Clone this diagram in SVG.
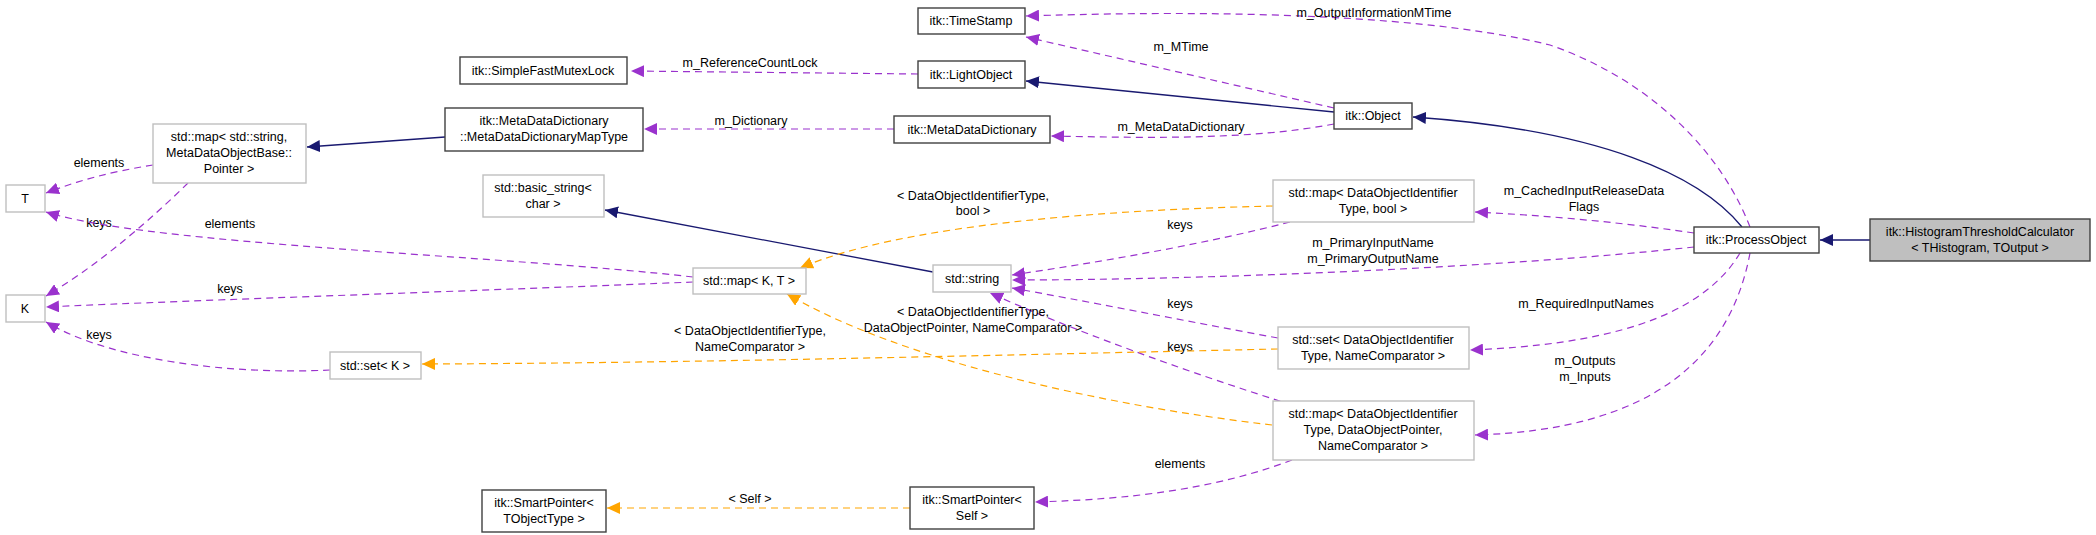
<svg xmlns="http://www.w3.org/2000/svg" width="2096" height="535" viewBox="0 0 2096 535">
<style>
text{font-family:"Liberation Sans",Arial,sans-serif;font-size:12.5px;fill:#000;text-anchor:middle}
.nb{fill:#fff;stroke:#404040;stroke-width:1.4}
.ng{fill:#fff;stroke:#bfbfbf;stroke-width:1.4}
.nh{fill:#bfbfbf;stroke:#404040;stroke-width:1.4}
.inh{fill:none;stroke:#191970;stroke-width:1.3}
.use{fill:none;stroke:#9a32cd;stroke-width:1.2;stroke-dasharray:7,5}
.tpl{fill:none;stroke:#ffa500;stroke-width:1.2;stroke-dasharray:7,5}
</style>
<defs>
<marker id="aN" markerUnits="userSpaceOnUse" markerWidth="14" markerHeight="12" refX="13" refY="6" orient="auto"><path d="M0,0L13,6L0,12z" fill="#191970"/></marker>
<marker id="aP" markerUnits="userSpaceOnUse" markerWidth="14" markerHeight="12" refX="13" refY="6" orient="auto"><path d="M0,0L13,6L0,12z" fill="#9a32cd"/></marker>
<marker id="aO" markerUnits="userSpaceOnUse" markerWidth="14" markerHeight="12" refX="13" refY="6" orient="auto"><path d="M0,0L13,6L0,12z" fill="#ffa500"/></marker>
</defs>
<g id="edges">
<path class="inh" d="M1870,240L1820,240" marker-end="url(#aN)"/>
<path class="inh" d="M1742,227C1700,175 1600,130 1413,117" marker-end="url(#aN)"/>
<path class="inh" d="M1334,112L1026,81" marker-end="url(#aN)"/>
<path class="inh" d="M933,272L605,210" marker-end="url(#aN)"/>
<path class="inh" d="M445,137L307,147" marker-end="url(#aN)"/>
<path class="use" d="M1750,227C1720,150 1650,80 1550,45C1400,8 1150,12 1026,16" marker-end="url(#aP)"/>
<text x="1374" y="17">m_OutputInformationMTime</text>
<path class="use" d="M1334,108L1026,37" marker-end="url(#aP)"/>
<text x="1181" y="51">m_MTime</text>
<path class="use" d="M918,74L631,71" marker-end="url(#aP)"/>
<text x="750" y="67">m_ReferenceCountLock</text>
<path class="use" d="M1334,124C1250,140 1150,138 1051,136" marker-end="url(#aP)"/>
<text x="1181" y="131">m_MetaDataDictionary</text>
<path class="use" d="M894,129L644,129" marker-end="url(#aP)"/>
<text x="751" y="125">m_Dictionary</text>
<path class="use" d="M153,165C110,172 80,180 46,193" marker-end="url(#aP)"/>
<text x="99" y="167">elements</text>
<path class="use" d="M188,183C140,230 90,270 46,296" marker-end="url(#aP)"/>
<text x="99" y="227">keys</text>
<path class="use" d="M693,277C500,255 150,245 46,212" marker-end="url(#aP)"/>
<text x="230" y="228">elements</text>
<path class="use" d="M693,282C500,290 200,300 46,307" marker-end="url(#aP)"/>
<text x="230" y="293">keys</text>
<path class="use" d="M330,370C230,375 110,360 46,322" marker-end="url(#aP)"/>
<text x="99" y="339">keys</text>
<path class="use" d="M1290,222C1200,245 1100,262 1012,275" marker-end="url(#aP)"/>
<text x="1180" y="229">keys</text>
<path class="use" d="M1694,247C1500,268 1200,280 1012,280" marker-end="url(#aP)"/>
<text x="1373" y="247">m_PrimaryInputName</text>
<text x="1373" y="263">m_PrimaryOutputName</text>
<path class="use" d="M1278,338C1180,320 1080,300 1012,288" marker-end="url(#aP)"/>
<text x="1180" y="308">keys</text>
<path class="use" d="M1292,405C1150,360 1050,320 990,293" marker-end="url(#aP)"/>
<text x="1180" y="351">keys</text>
<path class="use" d="M1694,233C1620,222 1540,215 1475,212" marker-end="url(#aP)"/>
<text x="1584" y="195">m_CachedInputReleaseData</text>
<text x="1584" y="211">Flags</text>
<path class="use" d="M1740,253C1700,320 1600,345 1470,350" marker-end="url(#aP)"/>
<text x="1586" y="308">m_RequiredInputNames</text>
<path class="use" d="M1750,253C1730,360 1650,430 1475,435" marker-end="url(#aP)"/>
<text x="1585" y="365">m_Outputs</text>
<text x="1585" y="381">m_Inputs</text>
<path class="use" d="M1292,460C1200,495 1100,500 1035,502" marker-end="url(#aP)"/>
<text x="1180" y="468">elements</text>
<path class="tpl" d="M1273,206C1100,210 900,225 800,268" marker-end="url(#aO)"/>
<text x="973" y="200">&lt; DataObjectIdentifierType,</text>
<text x="973" y="215">bool &gt;</text>
<path class="tpl" d="M1278,349C1000,355 700,363 422,364" marker-end="url(#aO)"/>
<text x="750" y="335">&lt; DataObjectIdentifierType,</text>
<text x="750" y="351">NameComparator &gt;</text>
<path class="tpl" d="M1272,425C1100,405 900,360 787,294" marker-end="url(#aO)"/>
<text x="973" y="316">&lt; DataObjectIdentifierType,</text>
<text x="973" y="332">DataObjectPointer, NameComparator &gt;</text>
<path class="tpl" d="M910,508L607,508" marker-end="url(#aO)"/>
<text x="750" y="503">&lt; Self &gt;</text>
</g>
<g id="HistogramThresholdCalculator"><rect class="nh" x="1870" y="219" width="220" height="42"/><text x="1980" y="236">itk::HistogramThresholdCalculator</text><text x="1980" y="252">&lt; THistogram, TOutput &gt;</text></g>
<g id="ProcessObject"><rect class="nb" x="1694" y="227" width="125" height="26"/><text x="1756" y="244">itk::ProcessObject</text></g>
<g id="Object"><rect class="nb" x="1334" y="103" width="78" height="26"/><text x="1373" y="120">itk::Object</text></g>
<g id="TimeStamp"><rect class="nb" x="918" y="8" width="107" height="26"/><text x="971" y="25">itk::TimeStamp</text></g>
<g id="LightObject"><rect class="nb" x="918" y="61" width="107" height="27"/><text x="971" y="79">itk::LightObject</text></g>
<g id="Mutex"><rect class="nb" x="460" y="57" width="167" height="27"/><text x="543" y="75">itk::SimpleFastMutexLock</text></g>
<g id="MetaDataDictionary"><rect class="nb" x="894" y="116" width="156" height="27"/><text x="972" y="134">itk::MetaDataDictionary</text></g>
<g id="MDDMapType"><rect class="nb" x="445" y="108" width="198" height="43"/><text x="544" y="125">itk::MetaDataDictionary</text><text x="544" y="141">::MetaDataDictionaryMapType</text></g>
<g id="MapStringMeta"><rect class="ng" x="153" y="124" width="153" height="59"/><text x="229" y="141">std::map&lt; std::string,</text><text x="229" y="157">MetaDataObjectBase::</text><text x="229" y="173">Pointer &gt;</text></g>
<g id="T"><rect class="ng" x="6" y="185" width="39" height="27"/><text x="25" y="203">T</text></g>
<g id="K"><rect class="ng" x="6" y="295" width="39" height="27"/><text x="25" y="313">K</text></g>
<g id="BasicString"><rect class="ng" x="483" y="175" width="121" height="42"/><text x="543" y="192">std::basic_string&lt;</text><text x="543" y="208">char &gt;</text></g>
<g id="MapKT"><rect class="ng" x="693" y="268" width="113" height="26"/><text x="749" y="285">std::map&lt; K, T &gt;</text></g>
<g id="String"><rect class="ng" x="933" y="265" width="78" height="27"/><text x="972" y="283">std::string</text></g>
<g id="SetK"><rect class="ng" x="330" y="352" width="91" height="27"/><text x="375" y="370">std::set&lt; K &gt;</text></g>
<g id="MapDOITBool"><rect class="ng" x="1273" y="180" width="201" height="42"/><text x="1373" y="197">std::map&lt; DataObjectIdentifier</text><text x="1373" y="213">Type, bool &gt;</text></g>
<g id="SetDOIT"><rect class="ng" x="1278" y="327" width="191" height="42"/><text x="1373" y="344">std::set&lt; DataObjectIdentifier</text><text x="1373" y="360">Type, NameComparator &gt;</text></g>
<g id="MapDOITDOP"><rect class="ng" x="1273" y="401" width="201" height="59"/><text x="1373" y="418">std::map&lt; DataObjectIdentifier</text><text x="1373" y="434">Type, DataObjectPointer,</text><text x="1373" y="450">NameComparator &gt;</text></g>
<g id="SmartPointerSelf"><rect class="nb" x="910" y="487" width="124" height="42"/><text x="972" y="504">itk::SmartPointer&lt;</text><text x="972" y="520">Self &gt;</text></g>
<g id="SmartPointerT"><rect class="nb" x="482" y="490" width="124" height="42"/><text x="544" y="507">itk::SmartPointer&lt;</text><text x="544" y="523">TObjectType &gt;</text></g>
</svg>
